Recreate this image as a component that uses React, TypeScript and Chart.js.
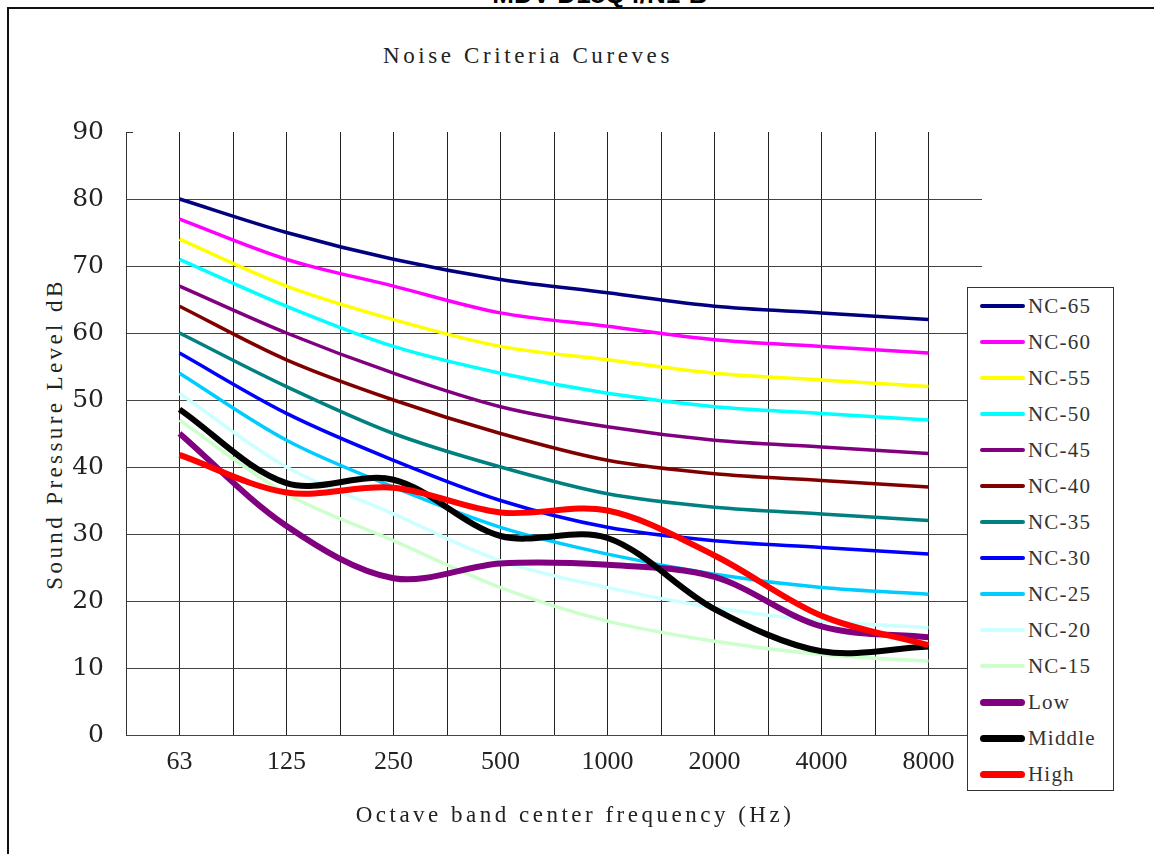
import React, { useEffect, useRef } from "react";
import { Chart, registerables } from "chart.js";

Chart.register(...registerables);

const FREQUENCIES = ["63", "125", "250", "500", "1000", "2000", "4000", "8000"];
const Y_TICKS = [0, 10, 20, 30, 40, 50, 60, 70, 80, 90];

const NC_65 = [80, 75, 71, 68, 66, 64, 63, 62];
const NC_60 = [77, 71, 67, 63, 61, 59, 58, 57];
const NC_55 = [74, 67, 62, 58, 56, 54, 53, 52];
const NC_50 = [71, 64, 58, 54, 51, 49, 48, 47];
const NC_45 = [67, 60, 54, 49, 46, 44, 43, 42];
const NC_40 = [64, 56, 50, 45, 41, 39, 38, 37];
const NC_35 = [60, 52, 45, 40, 36, 34, 33, 32];
const NC_30 = [57, 48, 41, 35, 31, 29, 28, 27];
const NC_25 = [54, 44, 37, 31, 27, 24, 22, 21];
const NC_20 = [51, 40, 33, 26, 22, 19, 17, 16];
const NC_15 = [47, 36, 29, 22, 17, 14, 12, 11];
const LOW = [45, 31.2, 23.4, 25.6, 25.4, 23.6, 16.2, 14.6];
const MIDDLE = [48.6, 37.6, 38.1, 29.7, 29.4, 18.8, 12.5, 13.2];
const HIGH = [41.8, 36.2, 36.9, 33.2, 33.5, 26.8, 17.8, 13.4];

const SERIES_NAMES = ["NC-65", "NC-60", "NC-55", "NC-50", "NC-45", "NC-40", "NC-35", "NC-30", "NC-25", "NC-20", "NC-15", "Low", "Middle", "High"];
const SERIES_VALUES = [NC_65, NC_60, NC_55, NC_50, NC_45, NC_40, NC_35, NC_30, NC_25, NC_20, NC_15, LOW, MIDDLE, HIGH];
const SERIES_COLORS = ["#000080", "#FF00FF", "#FFFF00", "#00FFFF", "#800080", "#800000", "#008080", "#0000FF", "#00CCFF", "#CCFFFF", "#CCFFCC", "#800080", "#000000", "#FF0000"];
const THICK = ["Low", "Middle", "High"];

const SERIF = "'Liberation Serif', 'DejaVu Serif', serif";

const topTickPlugin = {
  id: "topTick",
  afterDraw(chart: any) {
    const ys = chart.scales.y;
    const ctx = chart.ctx;
    const py = Math.round(ys.getPixelForValue(Y_TICKS[Y_TICKS.length - 1])) + 0.5;
    ctx.save();
    ctx.strokeStyle = "#333";
    ctx.lineWidth = 1;
    ctx.beginPath();
    ctx.moveTo(ys.right, py);
    ctx.lineTo(ys.right + 7, py);
    ctx.stroke();
    ctx.restore();
  },
};

const textBase: React.CSSProperties = {
  position: "absolute",
  fontFamily: SERIF,
  color: "#222",
  whiteSpace: "nowrap",
};

export default function App() {
  const canvasRef = useRef<HTMLCanvasElement | null>(null);

  useEffect(() => {
    if (!canvasRef.current) return;
    const datasets = SERIES_NAMES.map((name, i) => ({
      label: name,
      data: SERIES_VALUES[i].map((v, k) => ({ x: k, y: v })),
      borderColor: SERIES_COLORS[i],
      backgroundColor: SERIES_COLORS[i],
      borderWidth: THICK.includes(name) ? 6 : 3.5,
      pointRadius: 0,
      tension: 0.33,
      fill: false,
      order: SERIES_NAMES.length - 1 - i,
    }));
    const chart = new Chart(canvasRef.current, {
      type: "line",
      data: { datasets },
      plugins: [topTickPlugin],
      options: {
        animation: false,
        responsive: false,
        maintainAspectRatio: false,
        layout: { padding: { top: 132, right: 172, left: 0, bottom: 0 } },
        plugins: { legend: { display: false }, title: { display: false }, tooltip: { enabled: false } },
        scales: {
          x: {
            type: "linear",
            min: -0.5,
            max: FREQUENCIES.length - 0.5,
            afterBuildTicks: (scale: any) => {
              const t: any[] = [];
              for (let k = 0; k <= (FREQUENCIES.length - 1) * 2; k++) t.push({ value: k / 2 });
              scale.ticks = t;
            },
            afterFit: (scale: any) => {
              scale.height = 119;
            },
            ticks: {
              autoSkip: false,
              maxRotation: 0,
              minRotation: 0,
              padding: 12,
              color: "#222",
              font: { family: SERIF, size: 26 },
              callback: (value: any) => (Number.isInteger(value) ? FREQUENCIES[value] : ""),
            },
            grid: { color: "#222", lineWidth: 1, drawTicks: false },
            border: { display: false },
          },
          y: {
            min: 0,
            max: 90,
            afterBuildTicks: (scale: any) => {
              scale.ticks = Y_TICKS.map((v) => ({ value: v }));
            },
            afterFit: (scale: any) => {
              scale.width = 126;
            },
            ticks: {
              padding: 22,
              color: "#222",
              font: { family: "'DejaVu Serif', serif", size: 25 },
            },
            grid: {
              color: (c: any) => (c.tick && c.tick.value === 90 ? "rgba(0,0,0,0)" : "#444"),
              lineWidth: 1,
              drawTicks: false,
            },
            border: { display: true, color: "#333", width: 1 },
          },
        },
      },
    } as any);
    return () => chart.destroy();
  }, []);

  return (
    <div style={{ position: "absolute", left: 0, top: 0, width: 1154, height: 854, overflow: "hidden", background: "#fff" }}>
      <div
        style={{
          position: "absolute",
          left: 0,
          top: -21,
          width: 1200,
          textAlign: "center",
          font: "bold 26px 'Liberation Sans', Arial, sans-serif",
          lineHeight: "30px",
          color: "#000",
          whiteSpace: "nowrap",
        }}
      >
        MDV-D18Q4/N1-B
      </div>
      <div
        style={{
          position: "absolute",
          left: 7,
          top: 7,
          width: 1300,
          height: 1000,
          borderTop: "2px solid #111",
          borderLeft: "2px solid #111",
        }}
      />
      <div
        style={{
          ...textBase,
          left: 0,
          top: 42,
          width: 1056,
          textAlign: "center",
          fontSize: 23,
          lineHeight: "28px",
          letterSpacing: "3.6px",
        }}
      >
        Noise Criteria Cureves
      </div>
      <div
        style={{
          ...textBase,
          left: 55 - 200,
          top: 434 - 14,
          width: 400,
          height: 28,
          textAlign: "center",
          fontSize: 23,
          lineHeight: "28px",
          letterSpacing: "3.4px",
          transform: "rotate(-90deg)",
          transformOrigin: "50% 50%",
        }}
      >
        Sound Pressure Level dB
      </div>
      <canvas
        ref={canvasRef}
        width={1154}
        height={854}
        style={{ position: "absolute", left: 0, top: 0, width: 1154, height: 854 }}
      />
      <div
        style={{
          ...textBase,
          left: 0,
          top: 801,
          width: 1150,
          textAlign: "center",
          fontSize: 23,
          lineHeight: "28px",
          letterSpacing: "3.5px",
        }}
      >
        Octave band center frequency (Hz)
      </div>
      <div
        style={{
          position: "absolute",
          left: 967,
          top: 287,
          width: 145,
          height: 502,
          border: "1.5px solid #333",
          background: "#fff",
        }}
      >
        {SERIES_NAMES.map((name, i) => (
          <div key={name} style={{ height: 36, display: "flex", alignItems: "center" }}>
            <div
              style={{
                marginLeft: 12,
                width: 45,
                height: THICK.includes(name) ? 7 : 4,
                borderRadius: 4,
                background: SERIES_COLORS[i],
              }}
            />
            <span style={{ marginLeft: 3, fontFamily: SERIF, fontSize: 21, letterSpacing: "1.2px", color: "#333", whiteSpace: "nowrap" }}>{name}</span>
          </div>
        ))}
      </div>
    </div>
  );
}
